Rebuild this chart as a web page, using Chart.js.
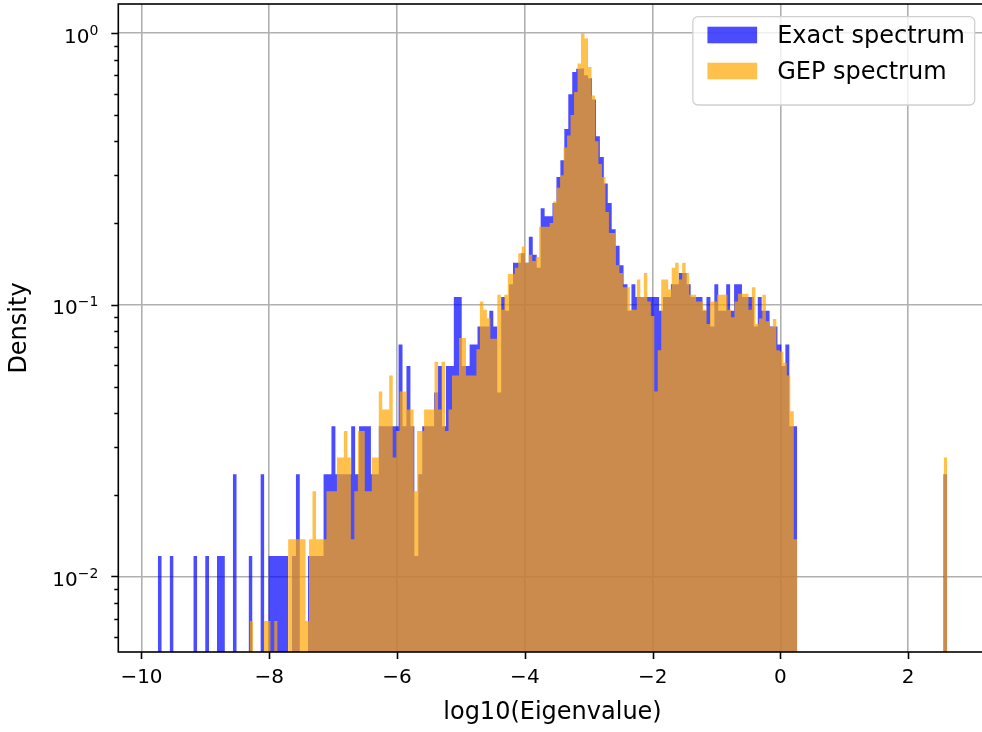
<!DOCTYPE html>
<html>
<head>
<meta charset="utf-8">
<title>Eigenvalue spectrum</title>
<script src="https://cdn.jsdelivr.net/npm/chart.js@4.4.1/dist/chart.umd.min.js"></script>
<style>
  html, body { margin: 0; padding: 0; background: #fff; overflow: hidden; }
  #wrap { width: 982px; height: 732px; overflow: hidden; }
</style>
</head>
<body>
<!-- the axes run a few pixels past the right edge of the page, so the canvas is a bit wider -->
<div id="wrap"><canvas id="spectrum" width="987" height="732"></canvas></div>
<script>
// histogram settings: 200 equal bins between the smallest and largest log10 eigenvalue
const exactRange = [-9.745, 2.61];
const gepRange = [-8.306, 2.61];

// density per bin, exact spectrum
const exactDensity = [
  0.0119, 0, 0, 0.0119, 0, 0, 0, 0, 0, 0.0119,
  0, 0, 0.0119, 0, 0, 0.0119, 0.0119, 0, 0, 0.0238,
  0, 0, 0, 0.0119, 0, 0, 0.0238, 0, 0.0119, 0.0119,
  0.0119, 0.0119, 0.0119, 0, 0.0119, 0.0238, 0, 0, 0.0119, 0.0119,
  0.0119, 0.0119, 0.0238, 0.0238, 0.0357, 0.0238, 0.0238, 0.0238, 0.0238, 0.0357,
  0.0238, 0.0357, 0.0357, 0.0357, 0.0238, 0.0238, 0.0357, 0.0357, 0.0357, 0.0357,
  0.0357, 0.0714, 0.0357, 0.0595, 0.0357, 0.0119, 0.0238, 0.0357, 0.0357, 0.0357,
  0.0476, 0.0595, 0.0357, 0.0595, 0.0595, 0.107, 0.107, 0.0595, 0.0595, 0.0714,
  0.0714, 0.0833, 0.0833, 0.0833, 0.0952, 0.0833, 0.0476, 0.107, 0.0952, 0.119,
  0.143, 0.143, 0.155, 0.143, 0.178, 0.153, 0.137, 0.227, 0.212, 0.212,
  0.237, 0.296, 0.341, 0.444, 0.597, 0.72, 0.74, 0.742, 0.70, 0.683,
  0.57, 0.418, 0.35, 0.28, 0.237, 0.19, 0.165, 0.14, 0.119, 0.0952,
  0.119, 0.107, 0.107, 0.107, 0.107, 0.107, 0.107, 0.0952, 0.107, 0.107,
  0.119, 0.119, 0.131, 0.131, 0.119, 0.107, 0.107, 0.107, 0.0952, 0.107,
  0.0833, 0.119, 0.0952, 0.0952, 0.119, 0.0952, 0.119, 0.119, 0.107, 0.107,
  0.107, 0.0833, 0.107, 0.0952, 0.0952, 0.0833, 0.0833, 0.0714, 0.0595, 0.0714,
  0.0357, 0.0357, 0, 0, 0, 0, 0, 0, 0, 0,
  0, 0, 0, 0, 0, 0, 0, 0, 0, 0,
  0, 0, 0, 0, 0, 0, 0, 0, 0, 0,
  0, 0, 0, 0, 0, 0, 0, 0, 0, 0.0238
];

// density per bin, GEP spectrum
const gepDensity = [
  0.00686, 0, 0, 0, 0.00686, 0.00686, 0, 0.00686, 0, 0,
  0, 0.0137, 0.0137, 0.0137, 0.0137, 0.0137, 0.00686, 0.0137, 0.0206, 0.0137,
  0.0137, 0.0137, 0.0206, 0.0206, 0.0206, 0.0274, 0.0274, 0.0343, 0.0274, 0.0137,
  0.0206, 0.0343, 0.0343, 0.0206, 0.0206, 0.0274, 0.0274, 0.048, 0.0412, 0.0412,
  0.0549, 0.0274, 0.0343, 0.048, 0.048, 0.0412, 0.0412, 0.0206, 0.0343, 0.0343,
  0.0412, 0.0412, 0.0412, 0.0617, 0.0412, 0.0617, 0.0343, 0.0412, 0.0549, 0.0549,
  0.0755, 0.0755, 0.0549, 0.0549, 0.0549, 0.0686, 0.103, 0.096, 0.0892, 0.075,
  0.075, 0.109, 0.096, 0.109, 0.13, 0.13, 0.137, 0.155, 0.164, 0.143,
  0.153, 0.145, 0.15, 0.194, 0.194, 0.194, 0.2, 0.24, 0.27, 0.30,
  0.38, 0.42, 0.5, 0.608, 0.774, 1.0, 0.956, 0.752, 0.59, 0.40,
  0.33, 0.296, 0.22, 0.184, 0.184, 0.14, 0.131, 0.116, 0.116, 0.096,
  0.096, 0.124, 0.107, 0.131, 0.103, 0.091, 0.048, 0.068, 0.124, 0.124,
  0.114, 0.137, 0.143, 0.124, 0.143, 0.131, 0.109, 0.109, 0.103, 0.103,
  0.096, 0.085, 0.103, 0.103, 0.109, 0.109, 0.109, 0.096, 0.09, 0.103,
  0.11, 0.11, 0.11, 0.096, 0.116, 0.085, 0.089, 0.109, 0.087, 0.083,
  0.0887, 0.068, 0.0673, 0.0612, 0.055, 0.0406, 0.0137, 0, 0, 0,
  0, 0, 0, 0, 0, 0, 0, 0, 0, 0,
  0, 0, 0, 0, 0, 0, 0, 0, 0, 0,
  0, 0, 0, 0, 0, 0, 0, 0, 0, 0,
  0, 0, 0, 0, 0, 0, 0, 0, 0, 0.0274
];

const seriesNames = ["Exact spectrum", "GEP spectrum"];

// axes
const xLimits = [-10.363, 3.228];
const yLimits = [0.00527, 1.282];
const xTickValues = [-10, -8, -6, -4, -2, 0, 2];
const yTickValues = [0.01, 0.1, 1];
// y labels as base and exponent, e.g. 10 and −2
const yTickLabels = [["10", "\u22122"], ["10", "\u22121"], ["10", "0"]];

const FONT = "'DejaVu Sans', 'Liberation Sans', sans-serif";
const BLUE = "rgba(0, 0, 255, 0.7)";
const ORANGE = "rgba(255, 165, 0, 0.7)";

// turn bin densities into flat-topped steps; empty bins break the outline
function histSteps(density, range) {
    const w = (range[1] - range[0]) / density.length;
    const pts = [];
    density.forEach((d, i) => {
        const left = range[0] + i * w;
        if (d > 0) {
            pts.push({ x: left, y: d }, { x: left + w, y: d });
        } else {
            pts.push({ x: left, y: null });
        }
    });
    return pts;
}

// minor ticks on the log axis: 2..9 times each decade inside the limits
function logMinorTicks() {
    const out = [];
    for (let e = Math.floor(Math.log10(yLimits[0])); e <= Math.ceil(Math.log10(yLimits[1])); e++) {
        for (let m = 2; m <= 9; m++) {
            const v = m * Math.pow(10, e);
            if (v >= yLimits[0] && v <= yLimits[1]) out.push(v);
        }
    }
    return out;
}

// tick marks, power-of-ten labels and the axes frame, drawn over the bars
const axisFrame = {
    id: "axisFrame",
    afterDraw(chart) {
        const { ctx, chartArea: a, scales: { x, y } } = chart;
        ctx.save();
        ctx.strokeStyle = "#000";
        ctx.lineWidth = 1.6;
        ctx.beginPath();
        xTickValues.forEach(v => {
            const px = Math.round(x.getPixelForValue(v)) + 0.5;
            ctx.moveTo(px, a.bottom);
            ctx.lineTo(px, a.bottom + 7);
        });
        yTickValues.forEach(v => {
            const py = Math.round(y.getPixelForValue(v)) + 0.5;
            ctx.moveTo(a.left, py);
            ctx.lineTo(a.left - 7, py);
        });
        logMinorTicks().forEach(v => {
            const py = Math.round(y.getPixelForValue(v)) + 0.5;
            ctx.moveTo(a.left, py);
            ctx.lineTo(a.left - 4, py);
        });
        ctx.stroke();
        ctx.strokeRect(a.left, a.top, a.right - a.left, a.bottom - a.top);

        ctx.fillStyle = "#000";
        ctx.textAlign = "left";
        ctx.textBaseline = "alphabetic";
        const right = a.left - 20;
        yTickValues.forEach((v, k) => {
            const py = y.getPixelForValue(v);
            const [base, exp] = yTickLabels[k];
            ctx.font = "14px " + FONT;
            const ew = ctx.measureText(exp).width;
            ctx.fillText(exp, right - ew, py + 1.6);
            ctx.font = "20px " + FONT;
            const bw = ctx.measureText(base).width;
            ctx.fillText(base, right - ew - bw, py + 9.5);
        });
        ctx.restore();
    }
};

// legend box in the upper right corner of the axes
const cornerLegend = {
    id: "cornerLegend",
    afterDraw(chart) {
        const { ctx, chartArea: a } = chart;
        const colors = [BLUE, ORANGE];
        ctx.save();
        ctx.font = "24px " + FONT;
        const textW = Math.max(...seriesNames.map(s => ctx.measureText(s).width));
        const boxW = 14.6 + 49.7 + 20 + textW + 9.7;
        const boxH = 88.3;
        const left = a.right - 12 - boxW;
        const top = a.top + 12.7;

        ctx.beginPath();
        ctx.roundRect(left, top, boxW, boxH, 5);
        ctx.fillStyle = "rgba(255, 255, 255, 0.8)";
        ctx.fill();
        ctx.strokeStyle = "#d0d0d0";
        ctx.lineWidth = 1.3;
        ctx.stroke();

        seriesNames.forEach((name, i) => {
            const rowTop = top + 10 + i * 36;
            ctx.fillStyle = colors[i];
            ctx.fillRect(left + 14.6, rowTop, 49.7, 16.6);
            ctx.fillStyle = "#000";
            ctx.textBaseline = "alphabetic";
            ctx.fillText(name, left + 14.6 + 49.7 + 20, rowTop + 16.6);
        });
        ctx.restore();
    }
};

Chart.defaults.color = "#000";
Chart.defaults.font.family = FONT;

const ctx = document.getElementById("spectrum").getContext("2d");

new Chart(ctx, {
    type: "line",
    data: {
        datasets: [
            {
                label: seriesNames[0],
                data: histSteps(exactDensity, exactRange),
                backgroundColor: BLUE,
                borderColor: "transparent",
                borderWidth: 0,
                pointRadius: 0,
                fill: "start",
                order: 2
            },
            {
                label: seriesNames[1],
                data: histSteps(gepDensity, gepRange),
                backgroundColor: ORANGE,
                borderColor: "transparent",
                borderWidth: 0,
                pointRadius: 0,
                fill: "start",
                order: 1
            }
        ]
    },
    options: {
        responsive: false,
        animation: false,
        devicePixelRatio: 1,
        spanGaps: false,
        layout: { padding: { top: 4, right: 0.3, left: 0, bottom: 0 } },
        plugins: {
            legend: { display: false },
            tooltip: { enabled: false }
        },
        scales: {
            x: {
                type: "linear",
                min: xLimits[0],
                max: xLimits[1],
                z: 1,
                afterBuildTicks: scale => {
                    scale.ticks = xTickValues.map(v => ({ value: v }));
                },
                afterFit: scale => {
                    scale.height = 80;
                    scale.paddingLeft = 0;
                    scale.paddingRight = 0;
                },
                ticks: {
                    autoSkip: false,
                    maxRotation: 0,
                    padding: 14,
                    font: { size: 20 },
                    callback: v => String(v).replace("-", "\u2212")
                },
                grid: { color: "#b0b0b0", lineWidth: 1.6, drawTicks: false },
                border: { display: false },
                title: {
                    display: true,
                    text: "log10(Eigenvalue)",
                    font: { size: 24 },
                    padding: { top: 0, bottom: 5 }
                }
            },
            y: {
                type: "logarithmic",
                min: yLimits[0],
                max: yLimits[1],
                z: 1,
                afterBuildTicks: scale => {
                    scale.ticks = yTickValues.map(v => ({ value: v, major: true }));
                },
                afterFit: scale => {
                    scale.width = 118.3;
                    scale.paddingTop = 0;
                    scale.paddingBottom = 0;
                },
                ticks: { display: false, autoSkip: false },
                grid: { color: "#b0b0b0", lineWidth: 1.6, drawTicks: false },
                border: { display: false },
                title: {
                    display: true,
                    text: "Density",
                    font: { size: 24 },
                    padding: { top: 5, bottom: 0 }
                }
            }
        }
    },
    plugins: [axisFrame, cornerLegend]
});
</script>
</body>
</html>
